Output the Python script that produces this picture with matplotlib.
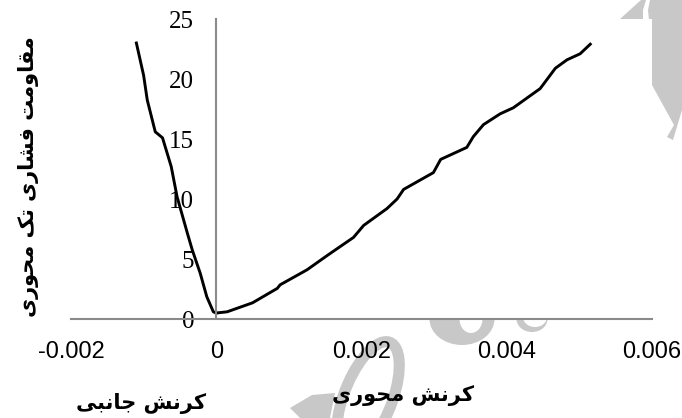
import matplotlib.pyplot as plt
from matplotlib.patches import Polygon, Ellipse

# Persian glyph forms: isolated, final, initial, medial
forms = {
    'م': ('\uFEE1', '\uFEE2', '\uFEE3', '\uFEE4'),
    'ق': ('\uFED5', '\uFED6', '\uFED7', '\uFED8'),
    'ت': ('\uFE95', '\uFE96', '\uFE97', '\uFE98'),
    'ف': ('\uFED1', '\uFED2', '\uFED3', '\uFED4'),
    'ش': ('\uFEB5', '\uFEB6', '\uFEB7', '\uFEB8'),
    'ی': ('\uFBFC', '\uFBFD', '\uFBFE', '\uFBFF'),
    'ک': ('\uFB8E', '\uFB8F', '\uFB90', '\uFB91'),
    'ح': ('\uFEA1', '\uFEA2', '\uFEA3', '\uFEA4'),
    'ن': ('\uFEE5', '\uFEE6', '\uFEE7', '\uFEE8'),
    'ج': ('\uFE9D', '\uFE9E', '\uFE9F', '\uFEA0'),
    'ب': ('\uFE8F', '\uFE90', '\uFE91', '\uFE92'),
    'ا': ('\uFE8D', '\uFE8E', None, None),
    'و': ('\uFEED', '\uFEEE', None, None),
    'ر': ('\uFEAD', '\uFEAE', None, None),
}


def shape(text):
    out = []
    for i, ch in enumerate(text):
        if ch not in forms:
            out.append(ch)
            continue
        prev = text[i - 1] if i > 0 else ''
        nxt = text[i + 1] if i + 1 < len(text) else ''
        dual = forms[ch][2] is not None
        join_prev = prev in forms and forms[prev][2] is not None
        join_next = dual and nxt in forms
        if join_prev and join_next:
            out.append(forms[ch][3])
        elif join_prev:
            out.append(forms[ch][1])
        elif join_next:
            out.append(forms[ch][2])
        else:
            out.append(forms[ch][0])
    return ''.join(out)[::-1]


# Data
lateral_strain = [0, -0.00004, -0.00013, -0.00022, -0.00033, -0.0004, -0.00054,
                  -0.00062, -0.00074, -0.00084, -0.00095, -0.001, -0.0011]
lateral_stress = [0.5, 0.6, 1.85, 3.8, 5.75, 7.2, 10.2, 12.7, 15.1, 15.6, 18.25, 20.3, 23]

axial_strain = [0, 0.00015, 0.0005, 0.00084, 0.00088, 0.00125, 0.00153, 0.00189,
                0.00203, 0.00235, 0.00249, 0.00258, 0.00299, 0.00309, 0.00345,
                0.00354, 0.00368, 0.00391, 0.00409, 0.00446, 0.00467, 0.00483,
                0.00501, 0.00515]
axial_stress = [0.5, 0.6, 1.35, 2.55, 2.85, 4.1, 5.3, 6.8, 7.8, 9.2, 10.0, 10.8, 12.2,
                13.3, 14.3, 15.2, 16.2, 17.1, 17.6, 19.2, 20.9, 21.6, 22.1, 22.9]

x_ticks = [-0.002, 0, 0.002, 0.004, 0.006]
x_ticklabels = ['-0.002', '0', '0.002', '0.004', '0.006']
y_ticks = [0, 5, 10, 15, 20, 25]

y_label = 'مقاومت فشاری تک محوری'
axial_label = 'کرنش محوری'
lateral_label = 'کرنش جانبی'

W, H = 682, 418
fig = plt.figure(figsize=(6.82, 4.18), dpi=100)


def px(x, y):
    return (x / W, 1 - y / H)


# faint watermark behind the chart (the white plot area hides the rest)
wm = '#c8c8c8'
tf = fig.transFigure
fig.patches.append(Polygon([px(620, 19), px(641, 0), px(646, 0), px(643, 10), px(643, 19)],
                           transform=tf, facecolor=wm, edgecolor='none', zorder=0))
fig.patches.append(Polygon([px(650, 0), px(682, 0), px(682, 110), px(673, 140),
                            px(667, 137), px(674, 125), px(652, 85), px(652, 30),
                            px(649, 20), px(648, 10)],
                           transform=tf, facecolor=wm, edgecolor='none', zorder=0))
fig.patches.append(Ellipse(px(462, 319), 65 / W, 52 / H, transform=tf,
                           facecolor=wm, edgecolor='none', zorder=0))
fig.patches.append(Ellipse(px(471, 319), 23 / W, 28 / H, transform=tf,
                           facecolor='white', edgecolor='none', zorder=0))
fig.patches.append(Ellipse(px(532, 319), 31 / W, 26 / H, transform=tf,
                           facecolor=wm, edgecolor='none', zorder=0))
fig.patches.append(Ellipse(px(535, 317), 24 / W, 20 / H, transform=tf,
                           facecolor='white', edgecolor='none', zorder=0))
fig.patches.append(Ellipse(px(368, 398), 50 / W, 115 / H, angle=-12, transform=tf,
                           facecolor='none', edgecolor=wm, linewidth=8, zorder=0))
fig.patches.append(Polygon([px(290, 408), px(312, 395), px(335, 393), px(330, 418),
                            px(300, 418)],
                           transform=tf, facecolor=wm, edgecolor='none', zorder=0))

ax = fig.add_axes([71 / W, 1 - 319 / H, 581 / W, 300 / H])
ax.set_zorder(2)

ax.plot(lateral_strain, lateral_stress, color='black', linewidth=2.1)
ax.plot(axial_strain, axial_stress, color='black', linewidth=2.1)

ax.set_xlim(-0.002, 0.006)
ax.set_ylim(0, 25)

# Spines: y axis crosses at x = 0
ax.spines['left'].set_position(('data', 0))
for s in ['left', 'bottom']:
    ax.spines[s].set_color('#8a8a8a')
    ax.spines[s].set_linewidth(1.5)
ax.spines['top'].set_visible(False)
ax.spines['right'].set_visible(False)

ax.set_xticks(x_ticks)
ax.set_xticklabels(x_ticklabels, family='Liberation Sans', fontsize=17)
ax.set_yticks(y_ticks)
ax.set_yticklabels([str(v) for v in y_ticks], family='Liberation Serif', fontsize=18)
ax.tick_params(axis='both', length=0, pad=16)

fig.text(29 / W, 1 - 177 / H, shape(y_label), rotation=90, ha='center',
         va='center', fontsize=15, family='DejaVu Sans', fontweight='bold', zorder=3)
fig.text(403 / W, 1 - 396 / H, shape(axial_label), ha='center', va='center',
         fontsize=15, family='DejaVu Sans', fontweight='bold', zorder=3)
fig.text(141 / W, 1 - 403 / H, shape(lateral_label), ha='center', va='center',
         fontsize=15, family='DejaVu Sans', fontweight='bold', zorder=3)

fig.savefig('out.png', dpi=100)
